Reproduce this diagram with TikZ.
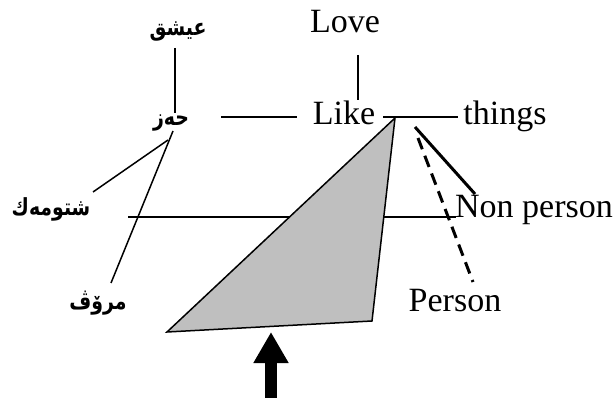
\documentclass[tikz,border=0pt]{standalone}
\usepackage{fontspec}
\setmainfont{Liberation Serif}
\newfontfamily\arabicfont[Script=Arabic]{DejaVu Sans}
\TeXXeTstate=1
\usetikzlibrary{arrows.meta}
\newcommand\artxt[1]{\scalebox{0.9}[1.12]{\arabicfont\bfseries\beginR #1\endR}}
\tikzset{
  lat/.style={inner sep=0pt, anchor=base, font=\fontsize{34}{40}\selectfont},
  arb/.style={inner sep=0pt, anchor=base, font=\fontsize{21}{25}\selectfont},
  ln/.style={line width=1.5pt},
  thickln/.style={line width=3pt},
  dashln/.style={line width=3pt, dash pattern=on 12pt off 7pt},
  wedge/.style={fill=black!25, draw=black, line width=1.5pt, line join=miter},
  bigarrow/.style={line width=12pt, -{Triangle[width=33pt,length=31pt]}}
}
\begin{document}
\begin{tikzpicture}[x=1pt,y=-1pt]
\useasboundingbox (0,0) rectangle (616,398);
% text nodes
\node[arb] (aishq) at (178,36) {\artxt{عيشق}};
\node[arb] (hez) at (171,126) {\artxt{حەز}};
\node[arb] (shtumek) at (51,216) {\artxt{شتومەك}};
\node[arb] (mrov) at (98,309) {\artxt{مرۆڤ}};
\node[lat] (love) at (345,33) {Love};
\node[lat] (like) at (344,125) {Like};
\node[lat] (things) at (505,125) {things};
\node[lat] (nonperson) at (534,218) {Non person};
\node[lat] (person) at (455,312) {Person};
% connector end points
\coordinate (aishqB) at (175,48);
\coordinate (hezT) at (175,113);
\coordinate (loveB) at (358,55);
\coordinate (likeT) at (358,100);
\coordinate (hezR) at (221,117);
\coordinate (likeL) at (297,117);
\coordinate (likeR) at (383,117);
\coordinate (thingsL) at (458,117);
\coordinate (hezA) at (168,140);
\coordinate (shtA) at (93,192);
\coordinate (hezB) at (173,131);
\coordinate (mrovT) at (111,283);
\coordinate (shtR) at (128,217);
\coordinate (nonL) at (456,217);
\coordinate (s1) at (415,127);
\coordinate (nonT) at (475,194);
\coordinate (d1) at (418,138);
\coordinate (perT) at (473,282);
\coordinate (apex) at (395,118);
\coordinate (wr) at (372,321);
\coordinate (wl) at (167,332);
\coordinate (arrB) at (271,398);
\coordinate (arrT) at (271,332);
% connectors
\draw[ln] (aishqB) -- (hezT);
\draw[ln] (loveB) -- (likeT);
\draw[ln] (hezR) -- (likeL);
\draw[ln] (likeR) -- (thingsL);
\draw[ln] (hezA) -- (shtA);
\draw[ln] (hezB) -- (mrovT);
\draw[ln] (shtR) -- (nonL);
\draw[thickln] (s1) -- (nonT);
\draw[dashln] (d1) -- (perT);
\draw[wedge] (apex) -- (wr) -- (wl) -- cycle;
\draw[bigarrow] (arrB) -- (arrT);
\end{tikzpicture}
\end{document}
